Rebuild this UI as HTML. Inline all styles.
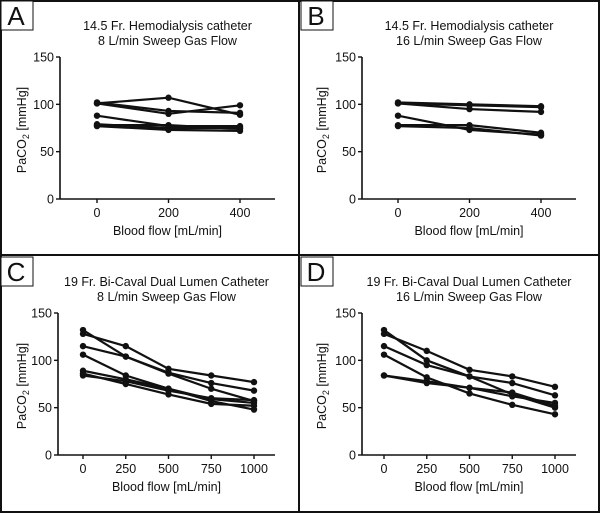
<!DOCTYPE html>
<html><head><meta charset="utf-8"><style>
body{margin:0;background:#fff;font-family:"Liberation Sans",sans-serif}
svg text{font-family:"Liberation Sans",sans-serif;fill:#111}
</style></head><body>
<svg id="fig" width="600" height="513" viewBox="0 0 600 513">
<rect x="1" y="1" width="598" height="511" fill="none" stroke="#111" stroke-width="2"/>
<line x1="299" y1="0" x2="299" y2="513" stroke="#111" stroke-width="2"/>
<line x1="0" y1="255" x2="600" y2="255" stroke="#111" stroke-width="2"/>
</svg>
<script>
const xCatsAB=[0,200,400];
const xCatsCD=[0,250,500,750,1000];
const yTicks=[0,50,100,150];
const seriesA=[[101,107,89],[101,90,99],[102,93,91],[88,77,77],[78,78,74],[77,73,72],[79,75,75]];
const seriesB=[[102,100,98],[101,95,92],[101,99,97],[88,73,68],[78,78,70],[77,75,67]];
const seriesC=[[132,104,86,70,57],[128,115,91,84,77],[115,104,87,76,68],[106,84,70,57,48],[89,80,70,59,55],[86,75,64,54,52],[84,78,68,60,58]];
const seriesD=[[132,100,83,64,50],[128,110,90,83,72],[115,95,83,76,63],[106,82,65,53,43],[84,78,71,62,55],[84,76,71,66,52]];
const titlesA=["14.5 Fr. Hemodialysis catheter","8 L/min Sweep Gas Flow"];
const titlesB=["14.5 Fr. Hemodialysis catheter","16 L/min Sweep Gas Flow"];
const titlesC=["19 Fr. Bi-Caval Dual Lumen Catheter","8 L/min Sweep Gas Flow"];
const titlesD=["19 Fr. Bi-Caval Dual Lumen Catheter","16 L/min Sweep Gas Flow"];
const NS="http://www.w3.org/2000/svg";
const svg=document.getElementById('fig');
function mk(tag,attrs,parent){const e=document.createElementNS(NS,tag);for(const k in attrs)e.setAttribute(k,attrs[k]);(parent||svg).appendChild(e);return e;}
function panel(id,ox,oy,axL,x0px,xMaxVal,xMaxPx,axR,cats,series,titles){
  const g=mk('g',{});
  
  
  const yTop=oy+57,yBot=oy+199;
  const sx=v=>ox+x0px+(xMaxPx-x0px)*v/xMaxVal;
  const sy=v=>yBot-(yBot-yTop)*v/150;
  // letter box
  const lb=mk('rect',{x:ox+1,y:oy+1,width:32,height:29,fill:'#fff',stroke:'#111','stroke-width':1},g);
  
  
  const lt=mk('text',{x:ox+16,y:oy+25,'font-size':26,'text-anchor':'middle'},g);lt.textContent=id;
  
  
  const cx=ox+(axL+axR)/2;
  titles.forEach((t,i)=>{const e=mk('text',{x:cx,y:oy+30+i*15,'font-size':12.5,'text-anchor':'middle'},g);e.textContent=t;
    
    });
  const ya=mk('line',{x1:ox+axL,y1:yTop,x2:ox+axL,y2:yBot,stroke:'#111','stroke-width':1.6},g);
  
  
  const xa=mk('line',{x1:ox+axL,y1:yBot,x2:ox+axR,y2:yBot,stroke:'#111','stroke-width':1.6},g);
  
  
  yTicks.forEach(v=>{mk('line',{x1:ox+axL-4,y1:sy(v),x2:ox+axL,y2:sy(v),stroke:'#111','stroke-width':1.4},g);
    const t=mk('text',{x:ox+axL-6,y:sy(v)+4.5,'font-size':12.5,'text-anchor':'end'},g);t.textContent=v;
    
    });
  cats.forEach(v=>{mk('line',{x1:sx(v),y1:yBot,x2:sx(v),y2:yBot+4,stroke:'#111','stroke-width':1.4},g);
    const t=mk('text',{x:sx(v),y:yBot+18,'font-size':12.5,'text-anchor':'middle'},g);t.textContent=v;
    
    });
  const xl=mk('text',{x:cx,y:oy+235,'font-size':12.5,'text-anchor':'middle'},g);xl.textContent='Blood flow [mL/min]';
  
  
  const ylx=ox+26,yly=(yTop+yBot)/2+2;
  const yl=mk('text',{x:ylx,y:yly,'font-size':12.5,'text-anchor':'middle',transform:`rotate(-90 ${ylx} ${yly})`},g);
  yl.innerHTML='PaCO<tspan font-size="9" dy="3">2</tspan><tspan dy="-3"> [mmHg]</tspan>';
  
  
  series.forEach((s,si)=>{
    const pts=s.map((v,i)=>sx(cats[i])+','+sy(v)).join(' ');
    const pl=mk('polyline',{points:pts,fill:'none',stroke:'#111','stroke-width':2.2},g);
    
    
    s.forEach((v,i)=>{const c=mk('circle',{cx:sx(cats[i]),cy:sy(v),r:3.2,fill:'#111'},g);
      
      });
  });
}
panel('A',0,0,60,97,400,240,275,xCatsAB,seriesA,titlesA);
panel('B',300,0,62,98,400,241,276,xCatsAB,seriesB,titlesB);
panel('C',0,256,58,83,1000,254,275,xCatsCD,seriesC,titlesC);
panel('D',300,256,62,84,1000,255,276,xCatsCD,seriesD,titlesD);
</script>
</body></html>
